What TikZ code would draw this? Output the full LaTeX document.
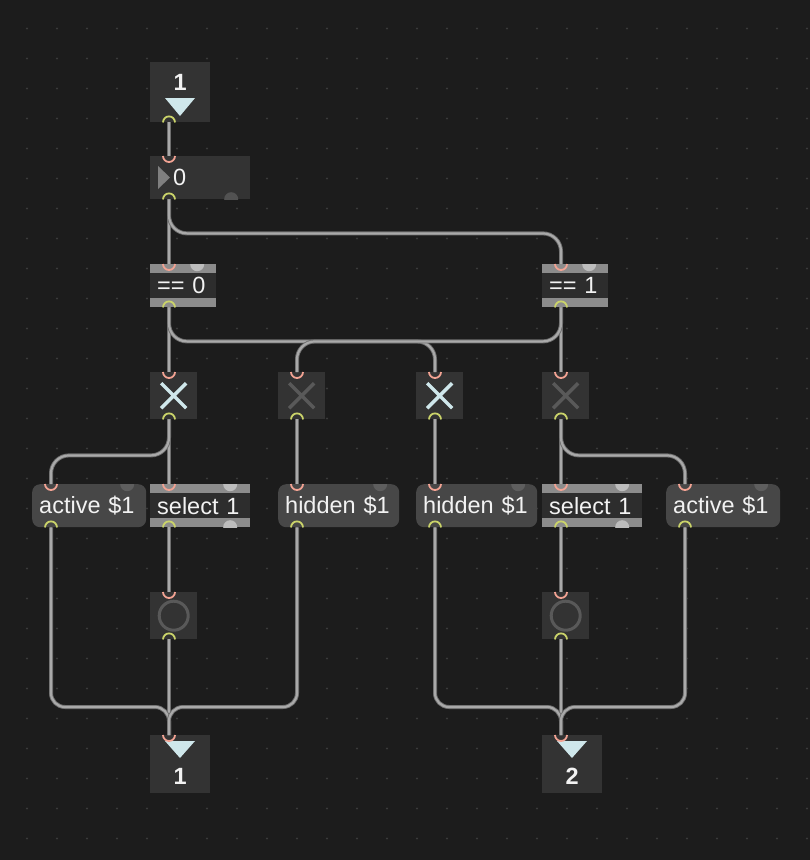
\documentclass[tikz,border=0pt]{standalone}
\usepackage{fontspec}
\setmainfont{Liberation Sans}
\usetikzlibrary{positioning}
\definecolor{bg}{HTML}{1C1C1C}
\definecolor{gdot}{HTML}{3A3A3A}
\definecolor{boxfill}{HTML}{333333}
\definecolor{msgfill}{HTML}{474747}
\definecolor{msgdot}{HTML}{5E5E5E}
\definecolor{band}{HTML}{8C8C8C}
\definecolor{objfill}{HTML}{2D2D2D}
\definecolor{objdot}{HTML}{BDBDBD}
\definecolor{numdot}{HTML}{525252}
\definecolor{tri}{HTML}{CFE7EB}
\definecolor{xoff}{HTML}{595959}
\definecolor{cabedge}{HTML}{6E6E6E}
\definecolor{cabfill}{HTML}{A9A9A9}
\definecolor{inport}{HTML}{F2A393}
\definecolor{outport}{HTML}{CBD46A}
\definecolor{txt}{HTML}{F2F2F2}
\newcommand\lbl{\fontsize{23.5}{27}\selectfont}

\begin{document}
\begin{tikzpicture}[x=1pt,y=-1pt,font=\lbl,text=txt]
    \tikzstyle{box}=[anchor=north west, inner sep=0pt, inner xsep=7pt, minimum height=43pt, align=left]
    \tikzstyle{msg}=[box, fill=msgfill, rounded corners=8pt, path picture={\fill[msgdot] ([xshift=-19pt]path picture bounding box.north east) circle (7pt);}]
    \tikzstyle{obj}=[box, fill=band, path picture={\fill[objfill] ([yshift=-9pt]path picture bounding box.north west) rectangle ([yshift=9pt]path picture bounding box.south east); \fill[objdot] ([xshift=-19pt]path picture bounding box.north east) circle (7pt);}]
    \tikzstyle{sel}=[box, fill=band, path picture={\fill[objfill] ([yshift=-9pt]path picture bounding box.north west) rectangle ([yshift=9pt]path picture bounding box.south east); \fill[objdot] ([xshift=-20pt]path picture bounding box.north east) circle (7pt); \fill[objdot] ([xshift=-20pt]path picture bounding box.south east) circle (7pt);}]
    \tikzstyle{iobox}=[anchor=north west, fill=boxfill, inner sep=0pt, minimum width=60pt]
    \tikzstyle{iolbl}=[inner sep=0pt, font=\lbl\bfseries]
    \tikzstyle{sq}=[anchor=north west, fill=boxfill, inner sep=0pt, minimum size=47pt]
    \tikzstyle{togon}=[sq, path picture={\draw[tri, line width=3.5pt] ([shift={(-12.5pt,-12.5pt)}]path picture bounding box.center) -- ([shift={(12.5pt,12.5pt)}]path picture bounding box.center) ([shift={(-12.5pt,12.5pt)}]path picture bounding box.center) -- ([shift={(12.5pt,-12.5pt)}]path picture bounding box.center);}]
    \tikzstyle{togoff}=[sq, path picture={\draw[xoff, line width=3.5pt] ([shift={(-12.5pt,-12.5pt)}]path picture bounding box.center) -- ([shift={(12.5pt,12.5pt)}]path picture bounding box.center) ([shift={(-12.5pt,12.5pt)}]path picture bounding box.center) -- ([shift={(12.5pt,-12.5pt)}]path picture bounding box.center);}]
    \tikzstyle{bng}=[sq, path picture={\draw[xoff, line width=3pt] (path picture bounding box.center) circle (14.5pt);}]
    \tikzstyle{cable}=[draw=cabedge, line width=0.9pt, double=cabfill, double distance=2.2pt, rounded corners=18pt]

    % canvas and grid
    \useasboundingbox (0,0) rectangle (810,860);
    \fill[bg] (0,0) rectangle (810,860);
    \foreach \i in {0,...,26}
        \foreach \j in {0,...,27}
            \fill[gdot] (27+30*\i,28.5+30*\j) circle (1.1pt);

    % inlet and number box
    \node[iobox, minimum height=60pt] (in1) at (150,62) {};
    \node[iolbl] (in1-lbl) at ([yshift=-20pt]in1.north) {1};
    \fill[tri, shift={(in1.north west)}] (15,36) -- (45,36) -- (30,54) -- cycle;

    \node[anchor=north west, fill=boxfill, inner sep=0pt, minimum width=100pt, minimum height=43pt,
          path picture={\fill[numdot] ([xshift=-19pt]path picture bounding box.south east) circle (7pt);}] (num) at (150,156) {};
    \node[anchor=west, inner sep=0pt] (num-lbl) at ([xshift=23pt]num.west) {0};
    \fill[gray, shift={(num.north west)}] (8,10) -- (20,21.5) -- (8,33) -- cycle;

    % compare
    \node[obj, text width=52pt] (eq0) at (150,264) {== 0};
    \node[obj, text width=52pt] (eq1) at (542,264) {== 1};

    % toggles
    \node[togon]  (tog1) at (150,372) {};
    \node[togoff] (tog2) at (278,372) {};
    \node[togon]  (tog3) at (416,372) {};
    \node[togoff] (tog4) at (542,372) {};

    % messages
    \node[msg, text width=100pt] (actL) at (32,484) {active \$1};
    \node[sel, text width=86pt] (selL) at (150,484) {select 1};
    \node[msg, text width=107pt] (hidL) at (278,484) {hidden \$1};
    \node[msg, text width=107pt] (hidR) at (416,484) {hidden \$1};
    \node[sel, text width=86pt] (selR) at (542,484) {select 1};
    \node[msg, text width=100pt] (actR) at (666,484) {active \$1};

    % buttons
    \node[bng] (bngL) at (150,592) {};
    \node[bng] (bngR) at (542,592) {};

    % outlets
    \node[iobox, minimum height=58pt] (out1) at (150,735) {};
    \node[iolbl] (out1-lbl) at ([yshift=-41pt]out1.north) {1};
    \fill[tri, shift={(out1.north west)}] (15,6) -- (45,6) -- (30,23) -- cycle;
    \node[iobox, minimum height=58pt] (out2) at (542,735) {};
    \node[iolbl] (out2-lbl) at ([yshift=-41pt]out2.north) {2};
    \fill[tri, shift={(out2.north west)}] (15,6) -- (45,6) -- (30,23) -- cycle;

    % ports
    \foreach \n in {num,eq0,eq1,tog1,tog2,tog3,tog4,actL,selL,hidL,hidR,selR,actR,bngL,bngR,out1,out2}
        \coordinate (\n-i) at ([xshift=19pt]\n.north west);
    \foreach \n in {in1,num,eq0,eq1,tog1,tog2,tog3,tog4,actL,selL,hidL,hidR,selR,actR,bngL,bngR}
        \coordinate (\n-o) at ([xshift=19pt]\n.south west);

    % cables
    \draw[cable] (in1-o) -- (num-i);
    \draw[cable] (num-o) -- (eq0-i);
    \draw[cable] (num-o) -- ++(0,34) -| (eq1-i);
    \draw[cable] (eq0-o) -- (tog1-i);
    \draw[cable] (eq0-o) -- ++(0,34) -| (tog3-i);
    \draw[cable] (eq1-o) -- (tog4-i);
    \draw[cable] (eq1-o) -- ++(0,34) -| (tog2-i);
    \draw[cable] (tog1-o) -- (selL-i);
    \draw[cable] (tog1-o) -- ++(0,36) -| (actL-i);
    \draw[cable] (tog2-o) -- (hidL-i);
    \draw[cable] (tog3-o) -- (hidR-i);
    \draw[cable] (tog4-o) -- (selR-i);
    \draw[cable] (tog4-o) -- ++(0,36) -| (actR-i);
    \draw[cable] (selL-o) -- (bngL-i);
    \draw[cable] (bngL-o) -- (out1-i);
    \draw[cable] (selR-o) -- (bngR-i);
    \draw[cable] (bngR-o) -- (out2-i);
    \draw[cable, rounded corners=14pt] (actL-o) |- ([yshift=28pt]out1-i) -- (out1-i);
    \draw[cable, rounded corners=14pt] (hidL-o) |- ([yshift=28pt]out1-i) -- (out1-i);
    \draw[cable, rounded corners=14pt] (hidR-o) |- ([yshift=28pt]out2-i) -- (out2-i);
    \draw[cable, rounded corners=14pt] (actR-o) |- ([yshift=28pt]out2-i) -- (out2-i);

    % inlet / outlet marks
    \foreach \n in {num,eq0,eq1,tog1,tog2,tog3,tog4,actL,selL,hidL,hidR,selR,actR,bngL,bngR,out1,out2}
        \draw[inport, line width=1.8pt] ([xshift=-6pt]\n-i) arc (180:360:6pt);
    \foreach \n in {in1,num,eq0,eq1,tog1,tog2,tog3,tog4,actL,selL,hidL,hidR,selR,actR,bngL,bngR}
        \draw[outport, line width=1.8pt] ([xshift=-6pt]\n-o) arc (180:0:6pt);
\end{tikzpicture}
\end{document}
